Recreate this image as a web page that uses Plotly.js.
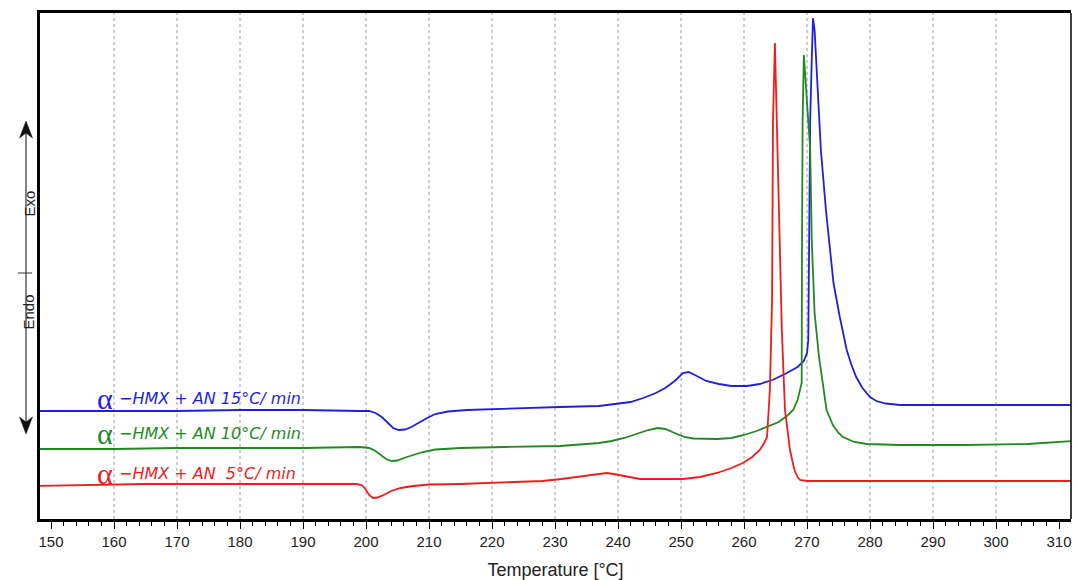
<!DOCTYPE html>
<html>
<head>
<meta charset="utf-8">
<script src="https://cdn.plot.ly/plotly-3.0.1.min.js"></script>
<style>html,body{margin:0;padding:0;background:#fff;}#chart{width:1076px;height:580px;}</style>
</head>
<body>
<div id="chart"></div>
<script>
// ---- Data (temperature in °C, heat flow in arbitrary units, exo up) ----
const tBlue = [148,158,170,180,190,199,200.5,201.5,202.5,203.5,204.3,205.2,206.2,207.2,208.5,209.7,211,213,216,220,230.8,237,240,242,244,246,247.5,249,250.3,251.2,252.5,254,256,258,260.5,262.5,264.5,266.5,268.5,269.5,270.0,270.2,270.35,270.5,270.75,270.95,271.2,271.55,271.9,272.2,273.0,273.7,274.2,275.2,276.3,277.0,277.8,278.8,280,281,282.5,284.8,290,300,312];
const hfBlue = [108,108,108,109,109,108,108,106,102,96,91,89,89.5,92,97,101,105,107.5,109,110,112,113,115,117,121,126,131,138,146,147,143,138,135,133,133,135,139,145,152,158,166,179,289,399,459,501,489,444,399,369,309,266,236,202,169,155,142,131,122,118,115.5,114,114,114,114];

const tGreen = [148,160,170,180,190,199,200.5,201.5,202.5,203.3,204.1,205,206,207.5,209,211,215,222,230.8,237,239,241,243,244.8,246.3,247.5,249,250.5,252,255.7,258,260,262,264,265.5,266.8,267.8,268.5,269.15,269.2,269.3,269.5,269.75,270.15,270.5,270.75,271.2,271.9,272.5,273.1,274.1,275.0,275.7,276.7,277.5,279.5,284.8,295,305,312];
const hfGreen = [70,70,71,71,71,72,71,68,63,59.5,58,58.5,61,64,67,69.5,71,72,73,76,78,81,85,89,91,90,86,82,80.5,80,81,84,88,93,97,103,109,119,136,269,399,464,439,399,369,279,206,162,134,109,94,86,82,79,77,75,74,74,75,78];

const tRed = [148,155,165,180,190,198.5,199.3,199.9,200.5,201.1,201.8,202.8,204,205.5,207.5,210,215,220,228,231,233.5,235.5,237,238.2,239.3,240.5,242,243.5,250.3,253,255.7,258,259.8,261.3,262.5,263.2,263.65,264.1,264.45,264.6,264.9,265.2,265.5,265.7,266.0,266.5,267.3,268,268.5,268.9,270,290,312];
const hfRed = [33,34,35,35,35,35,34,30,24,21,21.5,24,28,31,33,34.5,35,36,38,40,42,44,45.5,46,45,43.5,41.5,40,40,42,46,51,56,62,69,76,82,129,219,399,476,399,319,259,189,109,69,49,42,39,38,38,38];

const seriesNames = ['15°C/ min','10°C/ min',' 5°C/ min'];
const seriesColors = ['#1f1fe0','#1f8a1f','#f01c1c'];
const xTicks = [150,160,170,180,190,200,210,220,230,240,250,260,270,280,290,300,310];
const gridTemps = [160,170,180,190,200,210,220,230,240,250,260,270,280,290,300];

// ---- Layout helpers (pixel -> paper) ----
const W = 1076, H = 580;
const PL = 40, PR = 1071, PT = 13, PB = 519;
const pxX = X => (X - PL) / (PR - PL);
const pxY = Y => (PB - Y) / (PB - PT);

const traces = [
  {x: tBlue, y: hfBlue, name: seriesNames[0], line: {color: seriesColors[0], width: 1.8}},
  {x: tGreen, y: hfGreen, name: seriesNames[1], line: {color: seriesColors[1], width: 1.8}},
  {x: tRed, y: hfRed, name: seriesNames[2], line: {color: seriesColors[2], width: 1.8}}
].map(t => Object.assign({type: 'scatter', mode: 'lines', hoverinfo: 'skip'}, t));

const shapes = [];
gridTemps.forEach(g => shapes.push({type: 'line', xref: 'x', yref: 'paper', x0: g, x1: g, y0: 0, y1: 1, layer: 'below', line: {color: '#9a9a9a', width: 1, dash: 'dot'}}));
// right border
shapes.push({type: 'line', xref: 'paper', yref: 'paper', x0: 1, x1: 1, y0: 0, y1: 1, line: {color: '#000', width: 1.5}});
// Exo/Endo double arrow
const ax = pxX(26);
shapes.push({type: 'line', xref: 'paper', yref: 'paper', x0: ax, x1: ax, y0: pxY(132), y1: pxY(424), line: {color: '#333', width: 1.2}});
shapes.push({type: 'path', xref: 'paper', yref: 'paper', fillcolor: '#111', line: {color: '#111', width: 0.5},
  path: `M ${pxX(26)} ${pxY(121)} L ${pxX(19.5)} ${pxY(138)} L ${pxX(26)} ${pxY(133)} L ${pxX(32.5)} ${pxY(138)} Z`});
shapes.push({type: 'path', xref: 'paper', yref: 'paper', fillcolor: '#111', line: {color: '#111', width: 0.5},
  path: `M ${pxX(26)} ${pxY(434)} L ${pxX(19.5)} ${pxY(417)} L ${pxX(26)} ${pxY(422)} L ${pxX(32.5)} ${pxY(417)} Z`});
shapes.push({type: 'line', xref: 'paper', yref: 'paper', x0: pxX(18), x1: pxX(32), y0: pxY(273), y1: pxY(273), line: {color: '#333', width: 1}});

const labelY = [398, 433, 473];
const alphaY = [398, 433, 473];
const annotations = [];
seriesNames.forEach((n, i) => {
  annotations.push({xref: 'paper', yref: 'paper', x: pxX(105), y: pxY(alphaY[i]), xanchor: 'center', yanchor: 'middle', showarrow: false,
    text: 'α', font: {family: 'Liberation Serif', size: 30, color: seriesColors[i]}});
  annotations.push({xref: 'paper', yref: 'paper', x: pxX(117), y: pxY(labelY[i]), xanchor: 'left', yanchor: 'middle', showarrow: false,
    text: '<i>−HMX + AN ' + n + '</i>', font: {family: 'DejaVu Sans', size: 16, color: seriesColors[i]}});
});
annotations.push({xref: 'paper', yref: 'paper', x: pxX(18), y: pxY(204), textangle: -90, showarrow: false, text: 'Exo', font: {family: 'Liberation Sans', size: 15, color: '#222'}});
annotations.push({xref: 'paper', yref: 'paper', x: pxX(18), y: pxY(312), textangle: -90, showarrow: false, text: 'Endo', font: {family: 'Liberation Sans', size: 15, color: '#222'}});

const layout = {
  width: W, height: H,
  margin: {l: PL, r: W - PR, t: PT, b: H - PB, pad: 0},
  paper_bgcolor: '#fff', plot_bgcolor: '#fff',
  showlegend: false, hovermode: false,
  font: {family: 'Liberation Sans', color: '#222'},
  xaxis: {
    range: [148.25, 311.9], tickvals: xTicks, ticktext: xTicks.map(String),
    ticks: 'outside', ticklen: 7, tickwidth: 1, tickcolor: '#000',
    showline: true, linewidth: 3, linecolor: '#000', mirror: true,
    showgrid: false, zeroline: false,
    minor: {dtick: 2, tick0: 150, ticks: 'outside', ticklen: 4, tickwidth: 1, tickcolor: '#000', showgrid: false},
    tickfont: {family: 'Liberation Sans', size: 15, color: '#222'},
    title: {text: 'Temperature [°C]', font: {family: 'Liberation Sans', size: 18, color: '#222'}, standoff: 16}
  },
  yaxis: {
    range: [0, 506], showline: true, linewidth: 3, linecolor: '#000',
    showticklabels: false, ticks: '', showgrid: false, zeroline: false
  },
  shapes: shapes,
  annotations: annotations
};

Plotly.newPlot('chart', traces, layout, {staticPlot: true, displayModeBar: false});
</script>
</body>
</html>
